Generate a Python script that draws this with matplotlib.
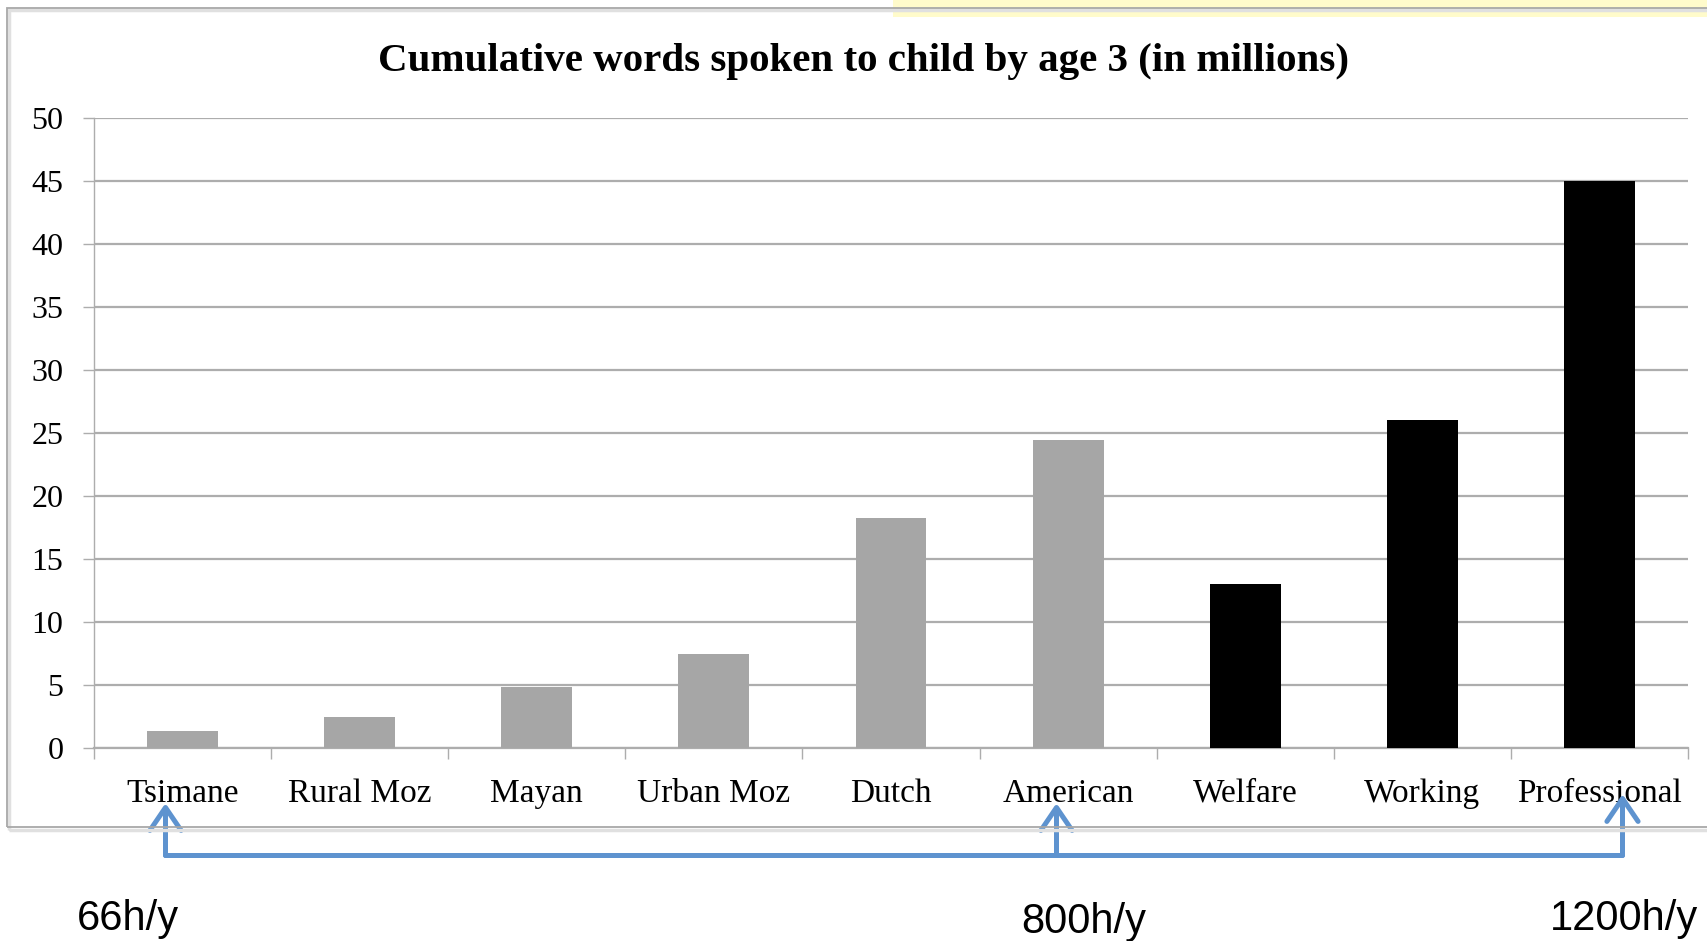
import numpy as np
import matplotlib
matplotlib.use("Agg")
import matplotlib.pyplot as plt
from matplotlib.patches import Rectangle
from matplotlib.path import Path
from matplotlib.markers import MarkerStyle
from matplotlib.ticker import FixedLocator

# cumulative words heard by age 3, in millions
groups = ["Tsimane", "Rural Moz", "Mayan", "Urban Moz", "Dutch",
          "American", "Welfare", "Working", "Professional"]
words_millions = [1.35, 2.4, 4.8, 7.4, 18.2, 24.4, 13.0, 26.0, 45.0]
# the last three are US socio-economic groups
is_us_ses = [False, False, False, False, False, False, True, True, True]

# hours of speech per year marked under the axis
hours_labels = ["66h/y", "800h/y", "1200h/y"]
hours_groups = ["Tsimane", "American", "Professional"]

title = "Cumulative words spoken to child by age 3 (in millions)"

SERIF = "Liberation Serif"
GRID = "#ADADAD"
BLUE = "#5E93CF"


def draw_frame(fig):
    # light yellow strip and the grey box round the chart
    fig.patches.append(Rectangle((893 / 1708, 1 - 17 / 941), 1.0, 17 / 941,
                                 transform=fig.transFigure, facecolor="#FFFBCB",
                                 edgecolor="none", zorder=0))
    fig.patches.append(Rectangle((9 / 1708, 1 - 830 / 941), 1.05, 820 / 941,
                                 transform=fig.transFigure, facecolor="none",
                                 edgecolor="#E0E0E0", linewidth=2.5, zorder=1))
    fig.patches.append(Rectangle((7 / 1708, 1 - 827 / 941), 1.05, 819 / 941,
                                 transform=fig.transFigure, facecolor="none",
                                 edgecolor="#A8A8A8", linewidth=1.3, zorder=1))


def draw_bars(ax):
    x = np.arange(len(groups))
    colors = ["#000000" if us else "#A6A6A6" for us in is_us_ses]
    ax.bar(x, words_millions, width=0.4, color=colors, zorder=3)

    ax.set_xlim(-0.5, len(groups) - 0.5)
    ax.set_ylim(0, 50)
    ax.set_yticks(np.arange(0, 51, 5))
    ax.yaxis.grid(True, color=GRID, linewidth=1.6, zorder=0)
    ax.set_axisbelow(True)

    ax.set_xticks(x)
    ax.set_xticklabels(groups, fontfamily=SERIF, fontsize=24)
    ax.xaxis.set_minor_locator(FixedLocator(np.arange(-0.5, len(groups), 1.0)))
    ax.tick_params(axis="x", which="major", length=0, pad=22)
    ax.tick_params(axis="x", which="minor", length=8, width=1, color=GRID)
    ax.tick_params(axis="y", length=8, width=1, color=GRID, pad=14,
                   labelsize=23)
    for lab in ax.get_yticklabels():
        lab.set_fontfamily(SERIF)

    for side in ["top", "right"]:
        ax.spines[side].set_visible(False)
    ax.spines["left"].set_color(GRID)
    ax.spines["bottom"].set_color(GRID)
    ax.spines["left"].set_linewidth(1)
    ax.spines["bottom"].set_linewidth(1.6)


def draw_arrows(ax, fig):
    trans = ax.get_xaxis_transform()
    # small nudges so the arrows sit where they point in the slide
    nudge = {"Tsimane": -0.10, "American": -0.07, "Professional": 0.13}
    tips = {"Tsimane": -0.094, "American": -0.094, "Professional": -0.080}
    xs = [groups.index(g) + nudge[g] for g in hours_groups]
    base = -0.170

    # open chevron head, tip at the marker origin
    head = MarkerStyle(Path([(-0.68, -1.0), (0, 0), (0.68, -1.0)],
                            [Path.MOVETO, Path.LINETO, Path.LINETO]),
                       fillstyle="none", joinstyle="round", capstyle="round")
    line_kw = dict(color=BLUE, linewidth=3.6, solid_capstyle="round",
                   solid_joinstyle="round", transform=trans, clip_on=False,
                   zorder=5)

    ax.plot([xs[0], xs[-1]], [base, base], **line_kw)
    for g, xv in zip(hours_groups, xs):
        ax.plot([xv, xv], [base, tips[g] - 0.004], **line_kw)
        ax.plot([xv], [tips[g]], marker=head, markersize=33, mew=3.6,
                mec=BLUE, mfc="none", linestyle="none", transform=trans,
                clip_on=False, zorder=6)

    label_pos = [(77 / 1708, 930), (1021 / 1708, 933), (1550 / 1708, 930)]
    for text, (fx, py) in zip(hours_labels, label_pos):
        fig.text(fx, 1 - py / 941, text, fontfamily="Liberation Sans",
                 fontsize=30, ha="left", va="baseline")


def main():
    fig = plt.figure(figsize=(17.08, 9.41), dpi=100)
    draw_frame(fig)
    ax = fig.add_axes([94 / 1708, 1 - 747.7 / 941,
                       (1688 - 94) / 1708, 630 / 941])
    ax.patch.set_alpha(0)
    draw_bars(ax)
    draw_arrows(ax, fig)
    fig.text(864 / 1708, 1 - 61 / 941, title, fontfamily=SERIF,
             fontweight="bold", fontsize=29.5, ha="center", va="center")
    fig.savefig("out.png", dpi=100)


if __name__ == "__main__":
    main()
